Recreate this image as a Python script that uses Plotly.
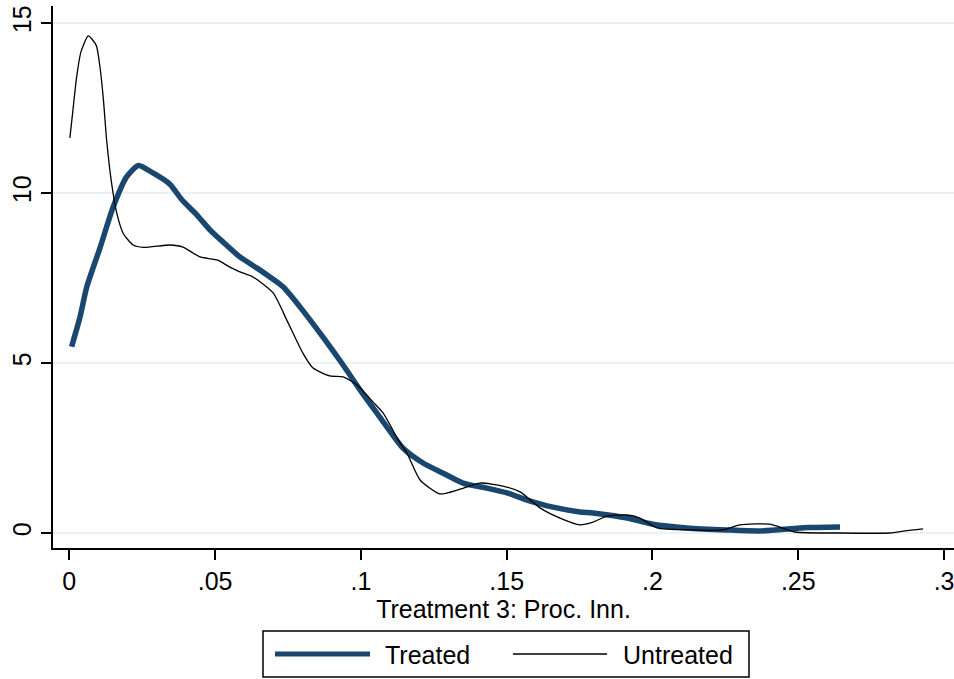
import plotly.graph_objects as go

# ---- data ----
treated_x = [0.0008, 0.0037, 0.0060, 0.0105, 0.0151, 0.0197, 0.0237, 0.0287, 0.0345,
             0.0386, 0.0438, 0.0483, 0.0527, 0.0585, 0.0644, 0.0688, 0.0733, 0.0791,
             0.0870, 0.0939, 0.0997, 0.1065, 0.1144, 0.1213, 0.1282, 0.1350, 0.1432,
             0.1501, 0.1570, 0.1659, 0.1751, 0.1796, 0.1913, 0.2001, 0.2118, 0.2255,
             0.2369, 0.2530, 0.2643]
treated_y = [5.48, 6.36, 7.24, 8.38, 9.60, 10.48, 10.81, 10.59, 10.26,
             9.80, 9.35, 8.91, 8.56, 8.12, 7.79, 7.53, 7.24, 6.65,
             5.76, 4.94, 4.21, 3.41, 2.50, 2.06, 1.76, 1.47, 1.32,
             1.18, 0.97, 0.76, 0.62, 0.59, 0.44, 0.26, 0.15, 0.09,
             0.06, 0.16, 0.18]

untreated_x = [0.0002, 0.0012, 0.0025, 0.0040, 0.0065, 0.0092, 0.0105, 0.0117, 0.0128,
               0.0145, 0.0163, 0.0185, 0.0219, 0.0254, 0.0345, 0.0390, 0.0448, 0.0507,
               0.0551, 0.0585, 0.0630, 0.0699, 0.0746, 0.0801, 0.0836, 0.0894, 0.0939,
               0.0987, 0.1042, 0.1076, 0.1134, 0.1158, 0.1203, 0.1271, 0.1340, 0.1408,
               0.1487, 0.1546, 0.1614, 0.1683, 0.1751, 0.1796, 0.1844, 0.1913, 0.1957,
               0.2015, 0.2139, 0.2241, 0.2300, 0.2403, 0.2489, 0.2643, 0.2814, 0.2866,
               0.2928]
untreated_y = [11.62, 12.40, 13.40, 14.15, 14.62, 14.35, 13.72, 12.74, 11.56,
               10.29, 9.40, 8.81, 8.47, 8.40, 8.47, 8.41, 8.12, 8.03,
               7.82, 7.68, 7.53, 7.06, 6.26, 5.29, 4.85, 4.62, 4.59,
               4.35, 3.85, 3.53, 2.65, 2.35, 1.56, 1.15, 1.29, 1.47,
               1.38, 1.21, 0.74, 0.44, 0.24, 0.32, 0.50, 0.53, 0.44,
               0.15, 0.09, 0.09, 0.24, 0.26, 0.03, 0.00, 0.00, 0.06,
               0.12]

x_ticks = [0, 0.05, 0.1, 0.15, 0.2, 0.25, 0.3]
x_ticklabels = ["0", ".05", ".1", ".15", ".2", ".25", ".3"]
y_ticks = [0, 5, 10, 15]
y_ticklabels = ["0", "5", "10", "15"]
series_names = ["Treated", "Untreated"]
x_title = "Treatment 3: Proc. Inn."

NAVY = "#1a476f"
FONT = "Arial, Liberation Sans, sans-serif"
FS = 25

fig = go.Figure()
fig.add_trace(go.Scatter(x=treated_x, y=treated_y, mode="lines", name=series_names[0],
                         line=dict(color=NAVY, width=5.5, shape="spline", smoothing=0.6)))
fig.add_trace(go.Scatter(x=untreated_x, y=untreated_y, mode="lines", name=series_names[1],
                         line=dict(color="black", width=1.3, shape="spline", smoothing=0.6)))

W, H = 954, 679
L, R, T, B = 53, 0, 6, 131
pw, ph = W - L - R, H - T - B

def px(xp):
    return (xp - L) / pw

def py(yp):
    return (H - B - yp) / ph

fig.update_layout(
    width=W, height=H,
    margin=dict(l=L, r=R, t=T, b=B),
    paper_bgcolor="white", plot_bgcolor="white",
    showlegend=False,
    font=dict(family=FONT, size=FS, color="black"),
    xaxis=dict(range=[-0.00559, 0.3034], tickvals=x_ticks, ticktext=x_ticklabels,
               ticks="outside", ticklen=10, tickwidth=1.5, tickcolor="black",
               showline=True, linecolor="black", linewidth=1.5,
               showgrid=False, zeroline=False, ticklabeloverflow="allow",
               tickfont=dict(size=FS),
               title=dict(text=x_title, font=dict(size=FS), standoff=1)),
    yaxis=dict(range=[-0.441, 15.5], tickvals=y_ticks, ticktext=y_ticklabels,
               ticks="outside", ticklen=10, tickwidth=1.5, tickcolor="black",
               showline=True, linecolor="black", linewidth=1.5,
               showgrid=True, gridcolor="#eaf2f3", gridwidth=1.5, zeroline=False,
               tickangle=-90, tickfont=dict(size=FS)),
)

# custom legend box (Stata style)
shapes = [
    dict(type="rect", xref="paper", yref="paper", x0=px(263), x1=px(749), y0=py(677), y1=py(631),
         line=dict(color="black", width=1.5), fillcolor="white"),
    dict(type="line", xref="paper", yref="paper", x0=px(275), x1=px(370), y0=py(654), y1=py(654),
         line=dict(color=NAVY, width=5)),
    dict(type="line", xref="paper", yref="paper", x0=px(513), x1=px(607), y0=py(654), y1=py(654),
         line=dict(color="black", width=1.3)),
]
annotations = [
    dict(xref="paper", yref="paper", x=px(383), y=py(655), text=series_names[0], showarrow=False,
         xanchor="left", yanchor="middle", font=dict(size=FS)),
    dict(xref="paper", yref="paper", x=px(621), y=py(655), text=series_names[1], showarrow=False,
         xanchor="left", yanchor="middle", font=dict(size=FS)),
]
fig.update_layout(shapes=shapes, annotations=annotations)

fig.write_html("out.html")
